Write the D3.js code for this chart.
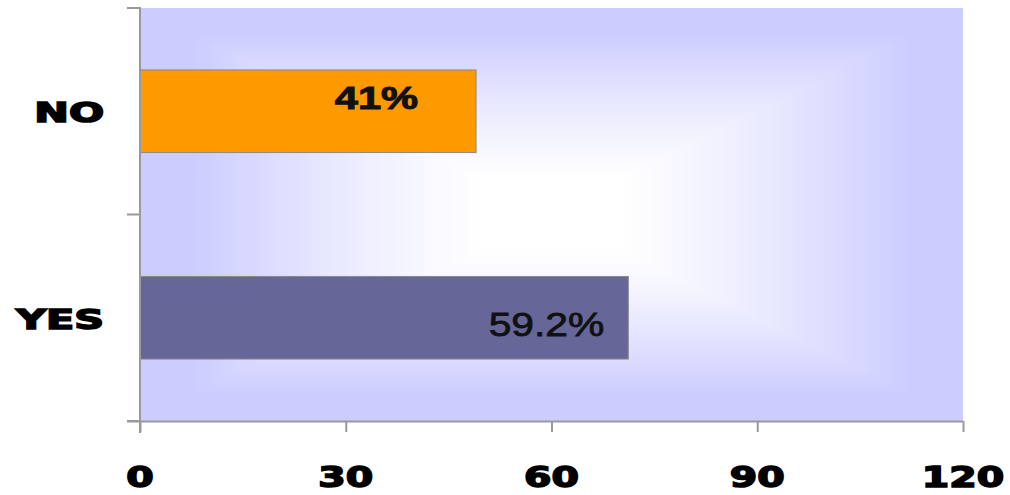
<!DOCTYPE html>
<html>
<head>
<meta charset="utf-8">
<script src="https://cdn.jsdelivr.net/npm/d3@7"></script>
<style>
  html, body { margin: 0; padding: 0; background: #ffffff; }
  svg { display: block; }
</style>
</head>
<body>
<div id="chart"></div>
<script>
// ---- data ----
const categories = ["NO", "YES"];
const values = [49, 71.2];
const valueLabels = ["41%", "59.2%"];
const barColors = ["#ff9900", "#666699"];
const xTicks = [0, 30, 60, 90, 120];

// ---- layout ----
const W = 1010, H = 495;
const plot = { left: 140, right: 963, top: 8, bottom: 421 };

const svg = d3.select("#chart").append("svg")
  .attr("width", W).attr("height", H);

const x = d3.scaleLinear().domain([0, 120]).range([plot.left, plot.right]);
const y = d3.scaleBand().domain(categories).range([plot.top, plot.bottom]).padding(0);

// ---- background: rectangular "from centre" gradient ----
const cx = (plot.left + plot.right) / 2, cy = (plot.top + plot.bottom) / 2;
const hw = (plot.right - plot.left) / 2, hh = (plot.bottom - plot.top) / 2;
const bgInterp = d3.interpolateRgb("#ffffff", "#ccccff");
const steps = 120;
const bg = svg.append("g");
for (let i = 0; i < steps; i++) {
  const t = 1 - i / steps;
  const k = Math.max(0, Math.min(1, (t - 0.16) / 0.72));
  bg.append("rect")
    .attr("x", cx - hw * t).attr("y", cy - hh * t)
    .attr("width", 2 * hw * t).attr("height", 2 * hh * t)
    .attr("fill", bgInterp(Math.pow(k, 1.25)));
}

// ---- bars ----
const bh = y.bandwidth() * 0.4;
svg.append("g").selectAll("rect")
  .data(categories)
  .join("rect")
  .attr("x", x(0))
  .attr("y", d => y(d) + y.bandwidth() * 0.3)
  .attr("width", (d, i) => x(values[i]) - x(0))
  .attr("height", bh)
  .attr("fill", (d, i) => barColors[i])
  .attr("stroke", "#8a8a8a")
  .attr("stroke-width", 1);

// ---- bar labels ----
const labelStyle = [
  { dx: -58, dy: -14, weight: "bold", size: 32, sx: 1.3, sw: 1.0 },
  { dx: -24, dy: 6, weight: "normal", size: 34, sx: 1.2, sw: 0.8 }
];
svg.append("g").selectAll("text")
  .data(categories)
  .join("text")
  .attr("transform", (d, i) => {
    const s = labelStyle[i];
    return `translate(${x(values[i]) + s.dx},${y(d) + y.bandwidth() / 2 + s.dy + s.size * 0.36}) scale(${s.sx},1)`;
  })
  .attr("text-anchor", "end")
  .attr("font-family", "'Liberation Sans', Arial, sans-serif")
  .attr("font-weight", (d, i) => labelStyle[i].weight)
  .attr("font-size", (d, i) => labelStyle[i].size)
  .attr("fill", "#111")
  .attr("stroke", "#111")
  .attr("stroke-width", (d, i) => labelStyle[i].sw)
  .text((d, i) => valueLabels[i]);

// ---- axes ----
const axisColor = "#999999";
const xAxis = svg.append("g")
  .attr("transform", `translate(0,${plot.bottom})`)
  .call(d3.axisBottom(x).tickValues(xTicks).tickSize(11).tickFormat(""));
xAxis.select(".domain").attr("d", `M${plot.left - 13},0.5H${plot.right}`).attr("stroke", axisColor).attr("stroke-width", 2);
xAxis.selectAll(".tick line").attr("stroke", axisColor).attr("stroke-width", 2);

svg.append("g").selectAll("text")
  .data(xTicks)
  .join("text")
  .attr("transform", d => `translate(${x(d)},487) scale(1.36,1)`)
  .attr("text-anchor", "middle")
  .attr("font-family", "'DejaVu Sans', sans-serif")
  .attr("font-weight", "bold")
  .attr("font-size", 29)
  .attr("fill", "#000")
  .attr("stroke", "#000")
  .attr("stroke-width", 1.6)
  .text(d => d);

// y axis line + boundary ticks
const yAxis = svg.append("g");
yAxis.append("line")
  .attr("x1", plot.left).attr("x2", plot.left)
  .attr("y1", plot.top - 1).attr("y2", plot.bottom + 12)
  .attr("stroke", axisColor).attr("stroke-width", 2);
const boundaries = categories.map(c => y(c)).concat([y.range()[1]]);
yAxis.selectAll("line.tk")
  .data(boundaries)
  .join("line")
  .attr("class", "tk")
  .attr("x1", plot.left - 13).attr("x2", plot.left)
  .attr("y1", d => d).attr("y2", d => d)
  .attr("stroke", axisColor).attr("stroke-width", 2);

svg.append("g").selectAll("text")
  .data(categories)
  .join("text")
  .attr("transform", d => `translate(104,${y(d) + y.bandwidth() / 2 + 11}) scale(1.53,1)`)
  .attr("text-anchor", "end")
  .attr("font-family", "'DejaVu Sans', sans-serif")
  .attr("font-weight", "bold")
  .attr("font-size", 27)
  .attr("fill", "#000")
  .attr("stroke", "#000")
  .attr("stroke-width", 1.6)
  .text(d => d);
</script>
</body>
</html>
